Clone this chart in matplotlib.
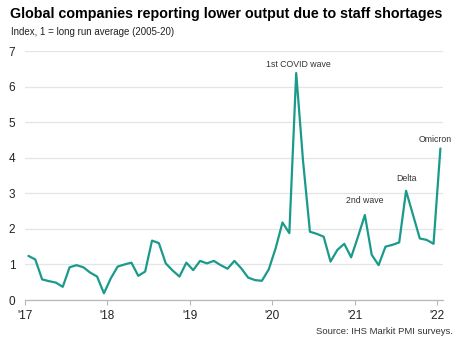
import matplotlib
matplotlib.use('Agg')
import matplotlib.pyplot as plt
import numpy as np

plt.rcParams['font.family'] = ['Liberation Sans', 'DejaVu Sans']

# monthly index values, Jan 2017 .. Jan 2022
values = [
    1.24, 1.14, 0.58, 0.53, 0.49, 0.37, 0.92, 0.98, 0.92, 0.77, 0.66, 0.19,   # 2017
    0.61, 0.94, 1.00, 1.05, 0.68, 0.80, 1.67, 1.60, 1.03, 0.83, 0.66, 1.05,   # 2018
    0.84, 1.10, 1.03, 1.10, 0.98, 0.88, 1.10, 0.89, 0.63, 0.56, 0.54, 0.86,   # 2019
    1.45, 2.18, 1.88, 6.38, 3.90, 1.92, 1.86, 1.78, 1.08, 1.41, 1.58, 1.20,   # 2020
    1.78, 2.39, 1.27, 0.98, 1.50, 1.55, 1.62, 3.07, 2.40, 1.73, 1.69, 1.58,   # 2021
    4.26,                                                                     # 2022
]
start_year = 2017
year_ticks = [2017, 2018, 2019, 2020, 2021, 2022]
year_labels = ["'17", "'18", "'19", "'20", "'21", "'22"]

# annotations: label, month index, x shift (months), y position of text
notes = [
    ('1st COVID wave', 39, 0.3, 6.62),
    ('2nd wave', 49, 0.0, 2.81),
    ('Delta', 55, 0.1, 3.42),
    ('Omicron', 60, -0.8, 4.5),
]

x = start_year + (np.arange(len(values)) + 0.5) / 12
line_col = '#1a9a8b'

fig = plt.figure(figsize=(4.6, 3.47), dpi=100)
ax = fig.add_axes([0.0543, 0.1354, 0.9087, 0.7176])

ax.plot(x, values, color=line_col, lw=1.6, solid_joinstyle='round', solid_capstyle='round')

ax.set_xlim(2017, 2022.073)
ax.set_ylim(0, 7)
ax.set_yticks(range(0, 8))
ax.set_xticks(year_ticks)
ax.set_xticklabels(year_labels)

ax.grid(axis='y', color='#e4e4e4', lw=0.9)
ax.set_axisbelow(True)
for s in ['top', 'right', 'left']:
    ax.spines[s].set_visible(False)
ax.spines['bottom'].set_color('#b8b8b8')
ax.spines['bottom'].set_linewidth(0.9)
ax.tick_params(axis='y', length=0, pad=7, labelsize=8.5, labelcolor='#222222')
ax.tick_params(axis='x', length=3.5, color='#b8b8b8', pad=4, labelsize=8.5, labelcolor='#222222')

for label, i, dx, ty in notes:
    ax.text(x[i] + dx / 12, ty, label, ha='center', va='center', fontsize=6.3, color='#333333')

fig.text(0.022, 0.96, 'Global companies reporting lower output due to staff shortages',
         fontsize=10.25, fontweight='bold', ha='left', va='center')
fig.text(0.024, 0.908, 'Index, 1 = long run average (2005-20)',
         fontsize=7, ha='left', va='center', color='#222222')
fig.text(0.985, 0.044, 'Source: IHS Markit PMI surveys.',
         fontsize=6.8, ha='right', va='center', color='#333333')

fig.savefig('out.png', dpi=100)
